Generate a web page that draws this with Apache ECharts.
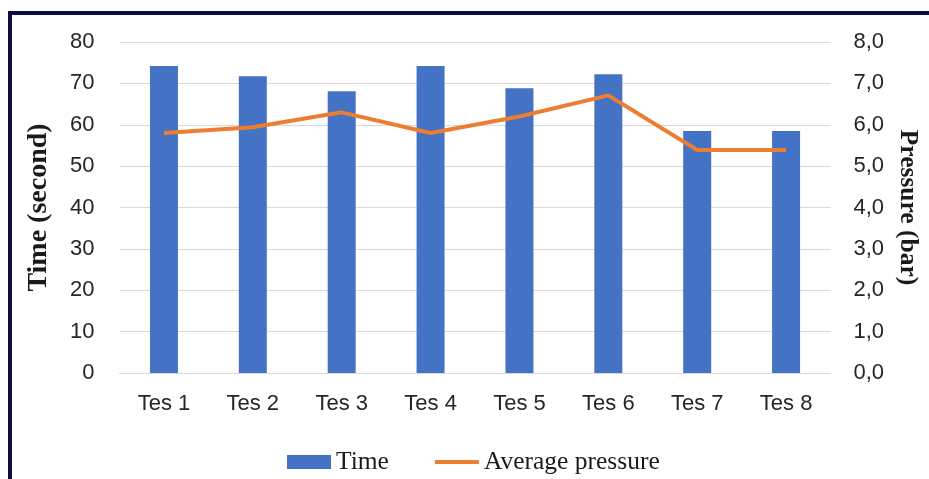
<!DOCTYPE html>
<html>
<head>
<meta charset="utf-8">
<title>Time and average pressure</title>
<script src="https://cdn.jsdelivr.net/npm/echarts@6/dist/echarts.min.js"></script>
<style>
  html, body {
    margin: 0;
    padding: 0;
    background: #ffffff;
    overflow: hidden;
  }
  .frame {
    position: absolute;
    left: 8px;
    top: 11px;
    width: 1000px;
    height: 600px;
    border: 4px solid #0c0c45;
  }
  #chart {
    position: absolute;
    left: 0;
    top: 0;
    width: 929px;
    height: 479px;
  }
</style>
</head>
<body>
<div class="frame"></div>
<div id="chart"></div>
<script>
// 数据
const categories = ['Tes 1', 'Tes 2', 'Tes 3', 'Tes 4', 'Tes 5', 'Tes 6', 'Tes 7', 'Tes 8']
const timeValues = [74.2, 71.7, 68.1, 74.2, 68.8, 72.2, 58.5, 58.5]
const pressureValues = [5.8, 5.94, 6.3, 5.8, 6.2, 6.71, 5.39, 5.39]

const labelFont = 'Liberation Sans'
const serifFont = 'Liberation Serif'

const myChart = echarts.init(document.getElementById('chart'))

const option = {
  animation: false,
  grid: {
    left: 119.5,
    right: 97.5,
    top: 42,
    bottom: 106,
  },
  legend: {
    left: 282,
    top: 444,
    itemWidth: 44,
    itemHeight: 14,
    itemGap: 44,
    textStyle: {
      fontFamily: serifFont,
      fontSize: 25.5,
      color: '#1a1a1a',
    },
    data: [
      { name: 'Time', icon: 'rect' },
      // 只显示线，不显示圆点
      { name: 'Average pressure', itemStyle: { opacity: 0 }, lineStyle: { width: 4 } },
    ],
  },
  xAxis: {
    type: 'category',
    data: categories,
    axisTick: { show: false },
    axisLine: { lineStyle: { color: '#d9d9d9', width: 1 } },
    axisLabel: {
      margin: 20,
      fontFamily: labelFont,
      fontSize: 22,
      color: '#262626',
    },
  },
  yAxis: [
    {
      type: 'value',
      min: 0,
      max: 80,
      interval: 10,
      name: 'Time (second)',
      nameLocation: 'middle',
      nameGap: 67,
      nameRotate: 90,
      nameTextStyle: {
        fontFamily: serifFont,
        fontWeight: 'bold',
        fontSize: 28,
        color: '#1a1a1a',
      },
      axisLabel: {
        margin: 25,
        fontFamily: labelFont,
        fontSize: 22,
        color: '#262626',
      },
      splitLine: { lineStyle: { color: '#d9d9d9', width: 1 } },
    },
    {
      type: 'value',
      min: 0,
      max: 8,
      interval: 1,
      name: 'Pressure (bar)',
      nameLocation: 'middle',
      nameGap: 64,
      nameRotate: -90,
      nameTextStyle: {
        fontFamily: serifFont,
        fontWeight: 'bold',
        fontSize: 25.5,
        color: '#1a1a1a',
      },
      axisLabel: {
        margin: 23,
        fontFamily: labelFont,
        fontSize: 22,
        color: '#262626',
        formatter: (v) => v.toFixed(1).replace('.', ','),
      },
      splitLine: { show: false },
    },
  ],
  series: [
    {
      name: 'Time',
      type: 'bar',
      data: timeValues,
      barWidth: 28,
      itemStyle: { color: '#4472c4' },
    },
    {
      name: 'Average pressure',
      type: 'line',
      yAxisIndex: 1,
      data: pressureValues,
      symbol: 'none',
      lineStyle: { color: '#ed7d31', width: 4 },
      itemStyle: { color: '#ed7d31' },
    },
  ],
}

myChart.setOption(option)
</script>
</body>
</html>
